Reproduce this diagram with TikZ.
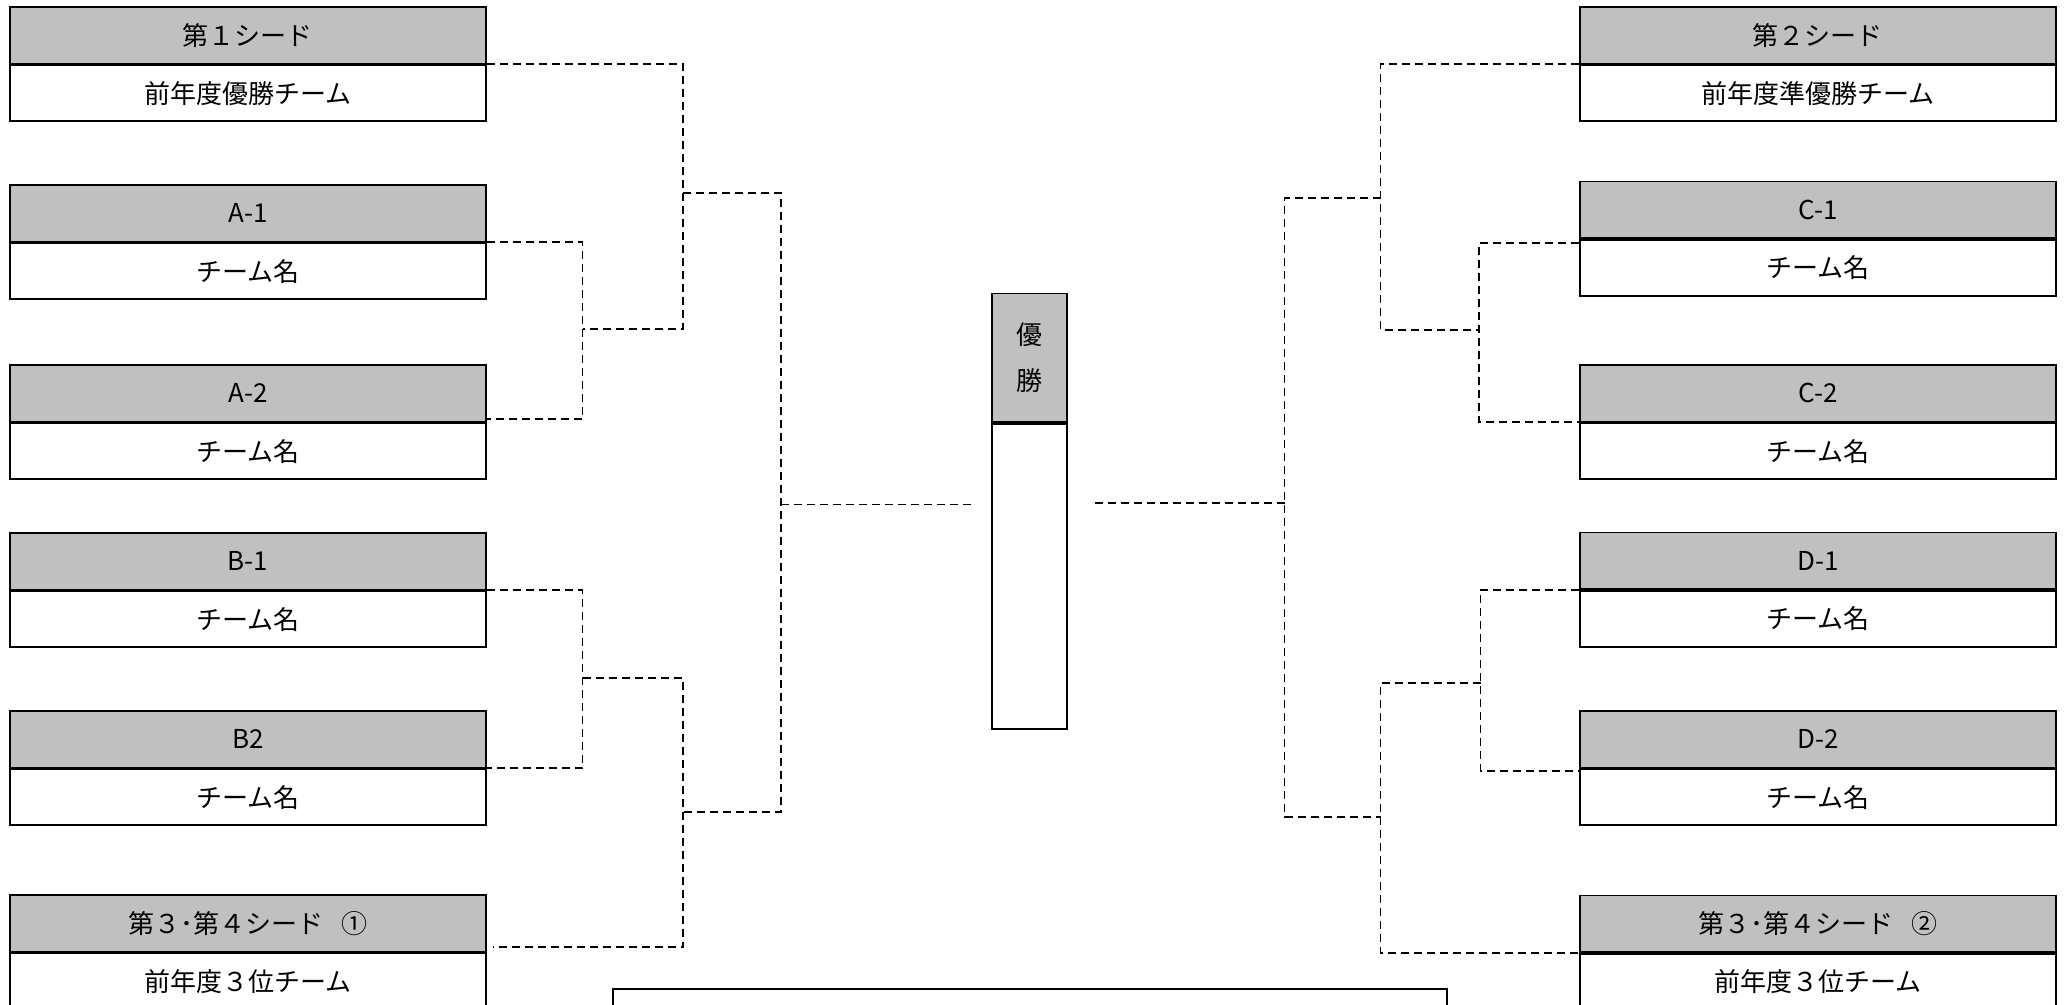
\documentclass[tikz,border=0pt]{standalone}
\usepackage{fontspec}
\setmainfont{Noto Sans CJK JP}
\definecolor{hdrgray}{RGB}{192,192,192}
\newcommand{\fsz}{\fontsize{26pt}{30pt}\selectfont}
\begin{document}
\begin{tikzpicture}[x=1pt,y=-1pt,
  hdr/.style={draw=black,line width=1.8pt,fill=hdrgray,minimum width=476pt,minimum height=56.5pt,inner sep=0pt,font=\fsz,anchor=north west},
  nm/.style={draw=black,line width=1.8pt,fill=white,minimum width=476pt,minimum height=56pt,inner sep=0pt,font=\fsz,anchor=north},
  champh/.style={draw=black,line width=1.8pt,fill=hdrgray,minimum width=75pt,minimum height=128.5pt,inner sep=0pt,anchor=north west,align=center,font=\fontsize{26pt}{46pt}\selectfont},
  champn/.style={draw=black,line width=1.8pt,fill=white,minimum width=75pt,minimum height=305.5pt,inner sep=0pt,anchor=north},
  resbox/.style={draw=black,line width=1.8pt,fill=white,minimum width=834pt,minimum height=100pt,inner sep=0pt,anchor=north west},
  conn/.style={draw=black,line width=1.7pt,dash pattern=on 8pt off 5pt}]
\useasboundingbox (0,0) rectangle (2066,1004);
\clip (0,0) rectangle (2066,1004);
\fill[white] (0,0) rectangle (2066,1004);

% left column
\node[hdr] (l1h) at (9,6) {第１シード};
\node[nm] (l1n) at (l1h.south) {前年度優勝チーム};
\node[hdr] (la1h) at (9,184) {A-1};
\node[nm] (la1n) at (la1h.south) {チーム名};
\node[hdr] (la2h) at (9,364) {A-2};
\node[nm] (la2n) at (la2h.south) {チーム名};
\node[hdr] (lb1h) at (9,532) {B-1};
\node[nm] (lb1n) at (lb1h.south) {チーム名};
\node[hdr] (lb2h) at (9,710) {B2};
\node[nm] (lb2n) at (lb2h.south) {チーム名};
\node[hdr] (l3h) at (9,894) {第３･第４シード\hspace{0.7em}①};
\node[nm] (l3n) at (l3h.south) {前年度３位チーム};

% right column
\node[hdr] (r2h) at (1579,6) {第２シード};
\node[nm] (r2n) at (r2h.south) {前年度準優勝チーム};
\node[hdr] (rc1h) at (1579,180.5) {C-1};
\node[nm] (rc1n) at (rc1h.south) {チーム名};
\node[hdr] (rc2h) at (1579,364) {C-2};
\node[nm] (rc2n) at (rc2h.south) {チーム名};
\node[hdr] (rd1h) at (1579,531.5) {D-1};
\node[nm] (rd1n) at (rd1h.south) {チーム名};
\node[hdr] (rd2h) at (1579,710) {D-2};
\node[nm] (rd2n) at (rd2h.south) {チーム名};
\node[hdr] (r3h) at (1579,894.5) {第３･第４シード\hspace{0.7em}②};
\node[nm] (r3n) at (r3h.south) {前年度３位チーム};

% champion
\node[champh] (chh) at (991,292.5) {優\\勝};
\node[champn] (chn) at (chh.south) {};

% result box
\node[resbox] (res) at (612,988) {};

% junctions
\coordinate (ja) at (582.6,329);
\coordinate (jb) at (683,193);
\coordinate (je) at (582.6,678);
\coordinate (jd) at (683,812);
\coordinate (jc) at (781,504.5);
\coordinate (lend) at (971,504.5);
\coordinate (jA) at (1479,330);
\coordinate (jB) at (1380.6,198);
\coordinate (jE) at (1480.5,682.7);
\coordinate (jD) at (1380.6,817);
\coordinate (jC) at (1284.6,503);
\coordinate (rend) at (1093.5,503);

% left connectors
\draw[conn] (la1h.south east) -| (ja) |- ([yshift=3pt]la2h.south east);
\draw[conn] (l1h.south east) -| (jb) |- (ja);
\draw[conn] (lb1h.south east) -| (je) |- (lb2h.south east);
\draw[conn] (je) -| (jd) |- ([shift={(6pt,5pt)}]l3h.south east);
\draw[conn] (jb) -| (jc) |- (jd);
\draw[conn] (jc) -- (lend);

% right connectors
\draw[conn] ([yshift=-4.5pt]rc1h.south west) -| (jA) |- (rc2h.south west);
\draw[conn] (r2h.south west) -| (jB) |- (jA);
\draw[conn] (rd1h.south west) -| (jE) |- ([yshift=-2.5pt]rd2h.south west);
\draw[conn] (jE) -| (jD) |- (r3h.south west);
\draw[conn] (jB) -| (jC) |- (jD);
\draw[conn] (jC) -- (rend);
\end{tikzpicture}
\end{document}
